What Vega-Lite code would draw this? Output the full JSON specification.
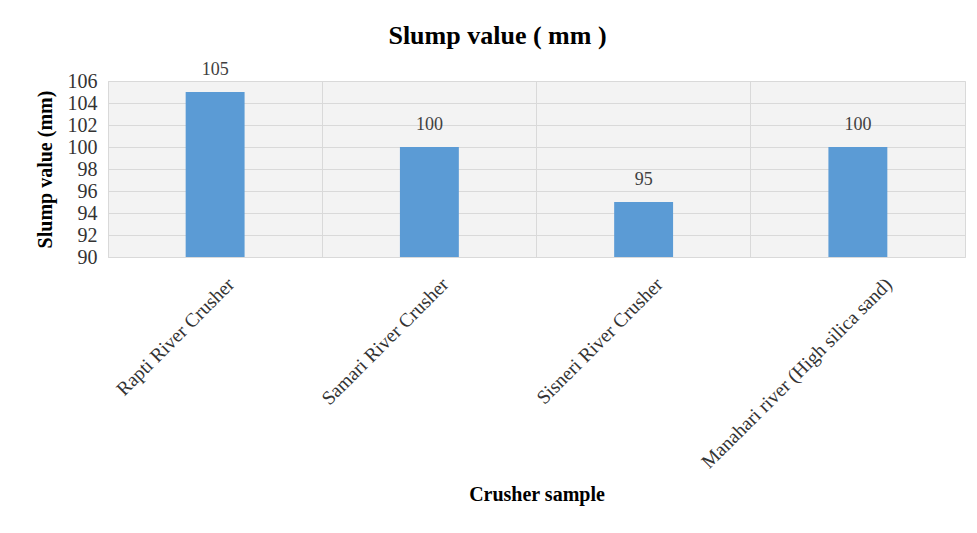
{
  "$schema": "https://vega.github.io/schema/vega-lite/v6.json",
  "width": 857,
  "height": 176,
  "autosize": {"type": "none"},
  "padding": {"left": 108, "top": 81, "right": 12, "bottom": 276},
  "background": "white",
  "title": {
    "text": "Slump value ( mm )",
    "font": "Liberation Serif",
    "fontSize": 26,
    "fontWeight": "bold",
    "color": "#000000",
    "anchor": "middle",
    "dx": -39,
    "offset": 12
  },
  "data": {
    "values": [
      {"sample": "Rapti River Crusher", "slump": 105},
      {"sample": "Samari River Crusher", "slump": 100},
      {"sample": "Sisneri River Crusher", "slump": 95},
      {"sample": "Manahari river (High silica sand)", "slump": 100}
    ]
  },
  "encoding": {
    "x": {
      "field": "sample",
      "type": "nominal",
      "sort": null,
      "scale": {"paddingInner": 0, "paddingOuter": 0},
      "axis": {
        "title": "Crusher sample",
        "titleFont": "Liberation Serif",
        "titleFontSize": 20,
        "titleFontWeight": "bold",
        "titleColor": "#000000",
        "titlePadding": 27,
        "labelFont": "Liberation Serif",
        "labelFontSize": 19.5,
        "labelColor": "#333333",
        "labelAngle": -45,
        "labelAlign": "right",
        "labelBaseline": "middle",
        "labelOffset": {
          "condition": {"test": "length(datum.label) > 25", "value": 31},
          "value": 16
        },
        "labelPadding": 24,
        "labelLimit": 400,
        "ticks": false,
        "domain": false,
        "grid": true,
        "bandPosition": 0,
        "gridColor": "#d9d9d9",
        "gridWidth": 1
      }
    },
    "y": {
      "field": "slump",
      "type": "quantitative",
      "scale": {"domain": [90, 106], "zero": false, "nice": false},
      "axis": {
        "values": [90, 92, 94, 96, 98, 100, 102, 104, 106],
        "title": "Slump value (mm)",
        "titleFont": "Liberation Serif",
        "titleFontSize": 20,
        "titleFontWeight": "bold",
        "titleColor": "#000000",
        "titlePadding": 12,
        "labelFont": "Liberation Serif",
        "labelFontSize": 20,
        "labelColor": "#333333",
        "labelPadding": 11,
        "ticks": false,
        "domain": false,
        "grid": true,
        "gridColor": "#d9d9d9",
        "gridWidth": 1
      }
    }
  },
  "layer": [
    {
      "mark": {"type": "bar", "color": "#5b9bd5", "width": {"band": 0.275}},
      "encoding": {"y2": {"datum": 90}}
    },
    {
      "mark": {
        "type": "text",
        "baseline": "bottom",
        "dy": -13,
        "font": "Liberation Serif",
        "fontSize": 18,
        "color": "#404040"
      },
      "encoding": {"text": {"field": "slump", "type": "quantitative"}}
    }
  ],
  "config": {
    "view": {"fill": "#f3f3f3", "stroke": "#d9d9d9", "strokeWidth": 1}
  }
}
